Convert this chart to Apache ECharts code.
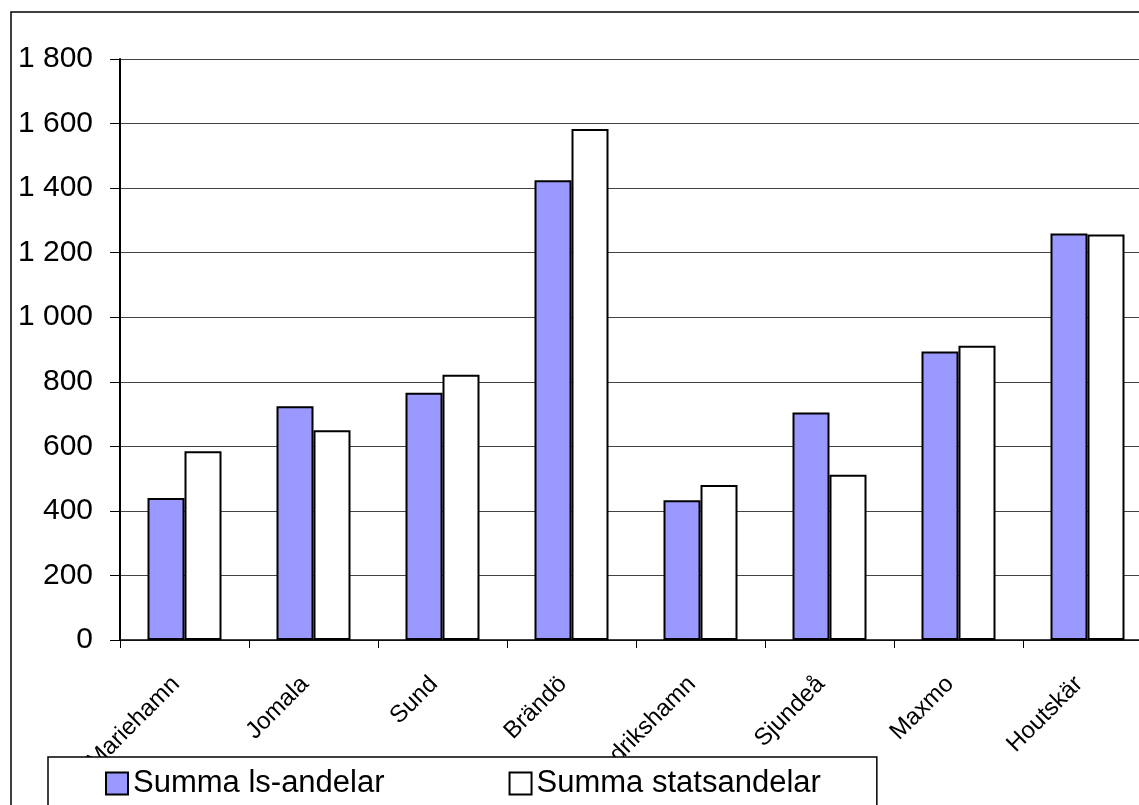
<!DOCTYPE html>
<html>
<head>
<meta charset="utf-8">
<script src="https://cdn.jsdelivr.net/npm/echarts@6/dist/echarts.min.js"></script>
<style>
  html, body { margin: 0; padding: 0; background: #ffffff; overflow: hidden; width: 1139px; height: 805px; }
  #chart { width: 1170px; height: 805px; }
</style>
</head>
<body>
<div id="chart"></div>
<script>
const categories = ['Mariehamn', 'Jomala', 'Sund', 'Brändö', 'Fredrikshamn', 'Sjundeå', 'Maxmo', 'Houtskär'];
const lsAndelar = [440, 724, 766, 1424, 433, 705, 894, 1259];
const statsAndelar = [585, 650, 822, 1583, 480, 512, 912, 1256];
const seriesNames = ['Summa ls-andelar', 'Summa statsandelar'];

const FONT = '"Liberation Sans", Arial, sans-serif';

function fmt(v) {
  if (v >= 1000) {
    return Math.floor(v / 1000) + ' ' + String(v % 1000).padStart(3, '0');
  }
  return String(v);
}

const chart = echarts.init(document.getElementById('chart'), null, { renderer: 'canvas' });
chart.setOption({
  backgroundColor: '#ffffff',
  animation: false,
  graphic: [{
    type: 'rect',
    z: -10,
    silent: true,
    shape: { x: 11, y: 12, width: 1300, height: 1000 },
    style: { fill: 'none', stroke: '#000000', lineWidth: 1.5 }
  }],
  grid: { left: 120, top: 59, height: 581, width: 1032, containLabel: false },
  legend: {
    left: 48,
    top: 757,
    orient: 'horizontal',
    padding: [11, 56, 30, 57],
    itemGap: 124,
    itemWidth: 22,
    itemHeight: 22,
    backgroundColor: '#ffffff',
    borderColor: '#000000',
    borderWidth: 1.5,
    z: 10,
    textStyle: { fontFamily: FONT, fontSize: 31, color: '#000000' },
    data: [
      { name: seriesNames[0], icon: 'rect' },
      { name: seriesNames[1], icon: 'rect' }
    ]
  },
  xAxis: {
    type: 'category',
    data: categories,
    axisLine: { lineStyle: { color: '#000000', width: 1.5 } },
    axisTick: { show: true, length: 8, lineStyle: { color: '#000000' } },
    axisLabel: {
      rotate: 45,
      interval: 0,
      margin: 32,
      padding: [0, 12, 0, 0],
      fontFamily: FONT,
      fontSize: 24,
      color: '#000000'
    },
    splitLine: { show: false }
  },
  yAxis: {
    type: 'value',
    min: 0,
    max: 1800,
    interval: 200,
    axisLine: { show: true, lineStyle: { color: '#000000', width: 2 } },
    axisTick: { show: true, length: 10, lineStyle: { color: '#000000' } },
    axisLabel: {
      formatter: fmt,
      margin: 27,
      fontFamily: FONT,
      fontSize: 30,
      color: '#000000'
    },
    splitLine: { show: true, lineStyle: { color: '#444444', width: 1.2 } }
  },
  series: [
    {
      name: seriesNames[0],
      type: 'bar',
      data: lsAndelar,
      barWidth: 37,
      barGap: '0%',
      itemStyle: { color: '#9999FF', borderColor: '#000000', borderWidth: 2 }
    },
    {
      name: seriesNames[1],
      type: 'bar',
      data: statsAndelar,
      barWidth: 37,
      barGap: '0%',
      itemStyle: { color: '#FFFFFF', borderColor: '#000000', borderWidth: 2 }
    }
  ]
});
</script>
</body>
</html>
